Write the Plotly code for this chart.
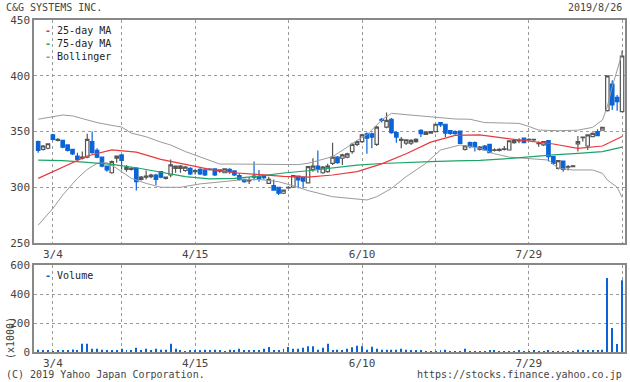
import pandas as pd
import plotly.graph_objects as go

# ---------------- data ----------------
HOLIDAYS = ["2019-03-21", "2019-04-29", "2019-04-30", "2019-05-01", "2019-05-02",
            "2019-05-03", "2019-05-06", "2019-07-15", "2019-08-12"]
dates = [d.strftime("%Y-%m-%d") for d in pd.bdate_range("2019-02-27", "2019-08-26")
         if d.strftime("%Y-%m-%d") not in HOLIDAYS]

open_ = [341, 334, 335, 347, 342, 342, 338, 334, 328, 326,
         327, 341, 333, 327, 319, 313, 326, 329, 316, 316,
         317, 307, 309, 309.5, 311, 314, 308, 311, 317, 317,
         315, 317, 314, 316, 315.5, 315.8, 316.4, 314.5, 313, 316,
         314.6, 310.4, 307, 305.8, 310, 309.5, 310, 303.5, 301.4, 300,
         294.6, 299.5, 300, 310, 309, 304, 316, 319, 313, 314,
         321.5, 327, 326, 327, 332, 338.5, 341, 348, 348, 338.5,
         361, 354, 361, 349, 342, 339.5, 339.5, 341, 351, 347.5,
         348.5, 349.8, 358, 356.5, 350.7, 350, 350.4, 334, 340, 340,
         334, 337, 338.5, 333, 333, 334, 333.4, 340, 341.5, 344,
         342.5, 342.5, 339, 338, 341.8, 327.4, 317, 323.5, 318, 318.5,
         338.8, 344.5, 337, 345.4, 349.8, 351.3, 368.7, 392.6, 380.6, 367.8]
high = [342, 338, 339.5, 348, 344, 342.5, 338.5, 334.5, 331, 332,
        348, 350, 335, 327.5, 319.5, 324, 328.5, 329.5, 320, 318,
        318, 310, 315, 312, 312, 314.5, 309.5, 325, 319.5, 320,
        319, 318, 316.5, 317, 316, 317, 317, 316, 317, 317,
        315, 312.5, 307.5, 309, 323, 315.5, 311, 309.5, 307, 300.5,
        298, 301, 311, 310.5, 309.5, 319, 326, 333, 319, 321,
        340, 328, 330, 331, 340, 342, 348, 349, 349, 355,
        362, 367, 362, 350, 345, 343, 343, 344, 352, 350,
        350, 357, 358.5, 357, 351, 351, 351, 338, 341, 341,
        337, 338, 339, 335, 335, 337, 342, 343, 344, 344.5,
        344, 343.5, 341, 341.5, 342, 328, 324, 324, 320, 320,
        346, 345.4, 347.5, 349, 352, 354, 400.5, 396, 382.7, 422.5]
low = [331, 333, 334, 342, 341, 335, 332, 329, 324, 325,
       326, 330, 326, 318, 314, 312, 322, 316, 314, 315,
       297, 306, 307, 308, 302, 308, 307, 309, 313, 313,
       314, 311, 311.5, 311, 310, 315, 310, 313, 312.5, 312,
       310, 306, 304, 303, 306, 305, 307, 303, 297, 293,
       294, 299, 299.5, 299, 299, 303.5, 314, 313, 312, 313,
       320, 321, 320, 326, 330, 337, 340, 330, 335, 337,
       358, 353, 348, 340, 335, 338, 338, 340, 345, 347,
       348, 349, 354, 345, 347, 347, 339, 333, 335, 332,
       333, 333, 330.5, 332, 332, 333, 333, 339, 339.5, 339.5,
       342, 341, 336.4, 337, 323, 320, 316, 314, 315, 318,
       332, 341, 333.4, 345, 346, 351, 368, 369.3, 368.7, 367.5]
close = [333, 337, 339, 343, 343, 336, 333, 330, 325, 327,
         343, 331, 327, 319, 315.5, 323, 328, 324, 318, 317,
         305, 309, 310, 311, 307, 309, 309, 320, 319, 319,
         318, 312, 315, 312, 311, 316.3, 311, 315.5, 316.4, 314,
         311, 307, 305, 306.2, 309, 308, 308.6, 307, 297.5, 294.6,
         297.5, 300, 310.5, 306.5, 305.5, 318.5, 319, 317, 318, 319,
         327, 322, 329, 330, 338.5, 341, 347, 344, 345, 354,
         360, 360, 349, 345, 343, 342.5, 342, 343, 348, 349.5,
         349.8, 356.5, 356, 348.5, 348.4, 348, 339.4, 337, 336.5, 336.5,
         336, 333.4, 331, 333.5, 334, 334.5, 341.7, 342, 342, 340,
         343, 343, 339.5, 341, 327.4, 321.5, 323.8, 316, 318.5, 319.2,
         341, 345, 346.9, 348.4, 346.3, 353.8, 399.8, 373.8, 376.7, 417.7]
volume = [16, 9, 9, 4, 9, 9, 9, 18, 9, 57,
          57, 23, 23, 16, 11, 11, 9, 23, 9, 11,
          30, 9, 23, 9, 23, 16, 16, 57, 23, 11,
          5, 7, 9, 9, 16, 9, 16, 9, 5, 16,
          7, 23, 7, 9, 9, 11, 23, 34, 9, 9,
          23, 34, 23, 23, 30, 39, 39, 16, 30, 57,
          11, 16, 11, 23, 32, 43, 39, 16, 37, 23,
          16, 16, 16, 16, 23, 16, 9, 9, 9, 5,
          5, 5, 12, 16, 5, 5, 5, 23, 5, 5,
          5, 5, 9, 9, 5, 5, 5, 5, 9, 5,
          5, 9, 5, 5, 9, 5, 5, 5, 5, 5,
          16, 9, 9, 9, 9, 16, 510, 165, 55, 495]

ma_days = [0, 5, 10, 15, 20, 25, 30, 35, 40, 45, 50, 55, 60, 65, 70, 75, 80, 85,
           90, 95, 100, 105, 110, 115, 119]
ma25 = [308, 318, 328, 333.5, 331.5, 325, 320.5, 316, 313, 311.5, 309.8, 309, 311,
        314, 321, 330, 340.5, 346.5, 347, 344, 341.5, 338.8, 334.9, 337, 345.5]
ma75 = [324.4, 323.8, 322.3, 320.5, 317.5, 313.5, 309.5, 307.5, 308, 310, 312.8,
        314.8, 317, 319.8, 321.3, 322.3, 322.9, 323.6, 324.1, 325.5, 327.5, 329,
        330.4, 331.9, 336]

upper_days = [0, 3, 5, 7, 10, 12, 15, 17, 19, 22, 25, 27, 30, 33, 37, 40, 45, 50, 53,
              55, 60, 63, 65, 67, 70, 72, 76, 80, 85, 88, 91, 95, 98, 100, 102, 106,
              110, 113, 115, 116, 117, 118, 119]
boll_upper = [361, 363.3, 364.8, 364, 360.5, 358, 355.5, 354, 348.5, 345.3, 340.5,
              337.9, 332, 327, 320.8, 320.8, 320.8, 320.5, 320.3, 321.5, 327.4, 336,
              342, 347, 360.3, 366.3, 364.8, 363, 361.2, 361, 358, 357.6, 357.3,
              354.5, 351.3, 350.7, 351.2, 353.7, 360.3, 372.3, 390.2, 405, 420]
lower_days = [0, 3, 5, 8, 10, 12, 14, 16, 19, 22, 25, 29, 33, 37, 41, 45, 49, 53, 55,
              60, 67, 69, 72, 75, 79, 82, 86, 90, 93, 96, 100, 104, 106, 109, 113,
              115, 116, 118, 119]
boll_lower = [266, 281, 293, 308, 316, 321.4, 322, 317, 308, 303.5, 300, 300, 303,
              305, 306.5, 307, 305, 300, 297, 291.5, 288.6, 291.5, 299, 309.5, 321.4,
              333.4, 337.9, 335, 330, 327, 326, 324.4, 317, 315.5, 315.5, 312.5,
              306.5, 300, 291]

grid_dates = ["2019-03-04", "2019-03-25", "2019-04-15", "2019-05-20",
              "2019-06-10", "2019-07-01", "2019-07-29", "2019-08-26"]
grid_labels = ["3/4", "", "4/15", "", "6/10", "", "7/29", ""]
price_ticks = [250, 300, 350, 400, 450]
volume_ticks = [0, 200, 400, 600]

# ---------------- style ----------------
BLUE = "#0a64d8"
UP_LINE = "#555555"
RED = "#e8393a"
GREEN = "#1ea466"
GRAY = "#9a9a9a"
TXT = "#444444"
FONT = "DejaVu Sans Mono"
W, H = 630, 382
L, R, T, B = 34, 3, 20, 30
PW, PH = W - L - R, H - T - B


def px(x):
    return (x - L) / PW


def py(y):
    return (H - B - y) / PH


fig = go.Figure()

fig.add_trace(go.Scatter(x=[dates[i] for i in upper_days], y=boll_upper, mode="lines",
                         line=dict(color=GRAY, width=1), xaxis="x", yaxis="y",
                         showlegend=False, hoverinfo="skip"))
fig.add_trace(go.Scatter(x=[dates[i] for i in lower_days], y=boll_lower, mode="lines",
                         line=dict(color=GRAY, width=1), xaxis="x", yaxis="y",
                         showlegend=False, hoverinfo="skip"))
fig.add_trace(go.Scatter(x=[dates[i] for i in ma_days], y=ma75, mode="lines",
                         line=dict(color=GREEN, width=1.2), xaxis="x", yaxis="y",
                         showlegend=False))
fig.add_trace(go.Scatter(x=[dates[i] for i in ma_days], y=ma25, mode="lines",
                         line=dict(color=RED, width=1.2), xaxis="x", yaxis="y",
                         showlegend=False))
fig.add_trace(go.Candlestick(
    x=dates, open=open_, high=high, low=low, close=close, xaxis="x", yaxis="y",
    increasing=dict(line=dict(color=UP_LINE, width=1.2), fillcolor="white"),
    decreasing=dict(line=dict(color=BLUE, width=1.2), fillcolor=BLUE),
    whiskerwidth=0, showlegend=False))
fig.add_trace(go.Bar(x=dates, y=volume, xaxis="x2", yaxis="y2", width=0.2,
                     marker=dict(color=BLUE, line=dict(width=0)), showlegend=False))

main_bottom = py(243)
vol_top = py(265)

xcommon = dict(type="category", categoryorder="array", categoryarray=dates,
               range=[-0.85, 119.6], tickvals=grid_dates, ticktext=grid_labels,
               showgrid=True, gridcolor="#9a9a9a", griddash="3px,3px", gridwidth=1,
               showline=True, mirror=True, linecolor="#888888", linewidth=1.5,
               ticks="", tickfont=dict(family=FONT, size=11, color=TXT),
               zeroline=False, fixedrange=True)
ycommon = dict(showgrid=True, gridcolor="#9a9a9a", griddash="3px,3px", gridwidth=1,
               showline=True, mirror=True, linecolor="#888888", linewidth=1.5,
               ticks="", tickfont=dict(family=FONT, size=11, color=TXT),
               zeroline=False, fixedrange=True)

fig.update_layout(
    width=W, height=H, margin=dict(l=L, r=R, t=T, b=B),
    paper_bgcolor="white", plot_bgcolor="white",
    font=dict(family=FONT, size=10, color=TXT),
    boxgap=0.0,
    xaxis=dict(xcommon, domain=[0, 1], anchor="y", rangeslider=dict(visible=False)),
    yaxis=dict(ycommon, domain=[main_bottom, 1], range=[250, 450], tickvals=price_ticks),
    xaxis2=dict(xcommon, domain=[0, 1], anchor="y2"),
    yaxis2=dict(ycommon, domain=[0, vol_top], range=[0, 600], tickvals=volume_ticks),
    showlegend=False,
)

ann = []


def text(x, y, s, anchor="left", angle=0, color=TXT, size=10):
    ann.append(dict(x=px(x), y=py(y), xref="paper", yref="paper", text=s,
                    showarrow=False, xanchor=anchor, yanchor="middle",
                    textangle=angle, font=dict(family=FONT, size=size, color=color)))


text(4, 8, "C&amp;G SYSTEMS INC.")
text(626, 8, "2019/8/26", anchor="right")
text(4, 374, "(C) 2019 Yahoo Japan Corporation.")
text(626, 374, "https://stocks.finance.yahoo.co.jp", anchor="right")
text(10, 338, "(x1000)", anchor="center", angle=-90)

legend_rows = [("25-day MA", RED, 31), ("75-day MA", GREEN, 43.5), ("Bollinger", GRAY, 56),
               ("Volume", BLUE, 275)]
for name, col, yy in legend_rows:
    text(43, yy, f'<span style="color:{col}"><b>-</b></span> {name}', color="#222222")

fig.update_layout(annotations=ann)
fig.write_html("out.html", config={"displayModeBar": False, "displaylogo": False},
               post_script="document.body.style.margin='0';document.body.style.padding='0';")
